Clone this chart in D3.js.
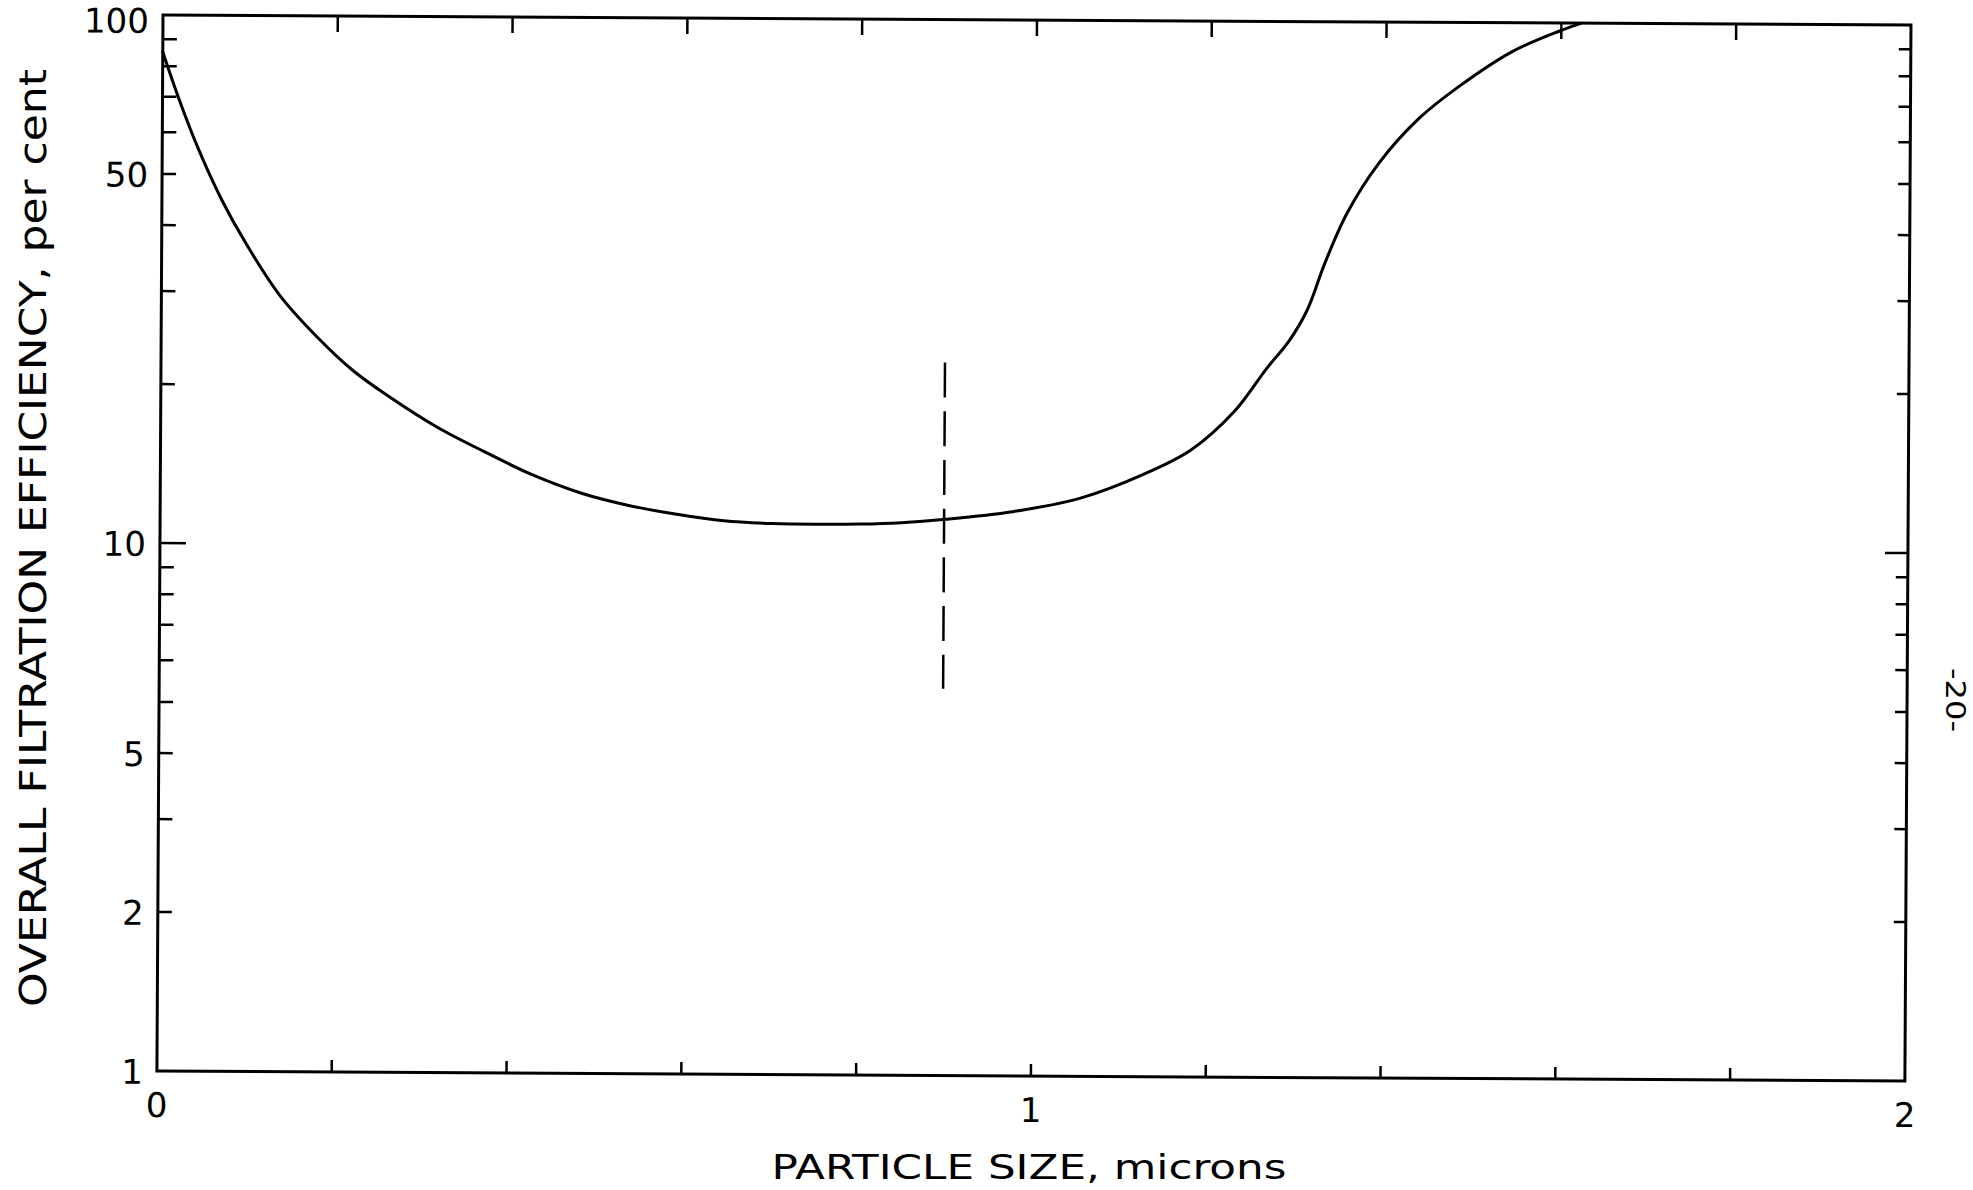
<!DOCTYPE html>
<html>
<head>
<meta charset="utf-8">
<script src="https://cdn.jsdelivr.net/npm/d3@7"></script>
<style>
  html, body { margin: 0; padding: 0; background: #fff; }
  svg { display: block; }
  text { font-family: "DejaVu Sans", "Liberation Sans", sans-serif; fill: #000; }
</style>
</head>
<body>
<svg id="chart" width="1973" height="1190"></svg>
<script>
// ---- data ----
const particleSize = [0, 0.0185, 0.041, 0.0685, 0.096, 0.135, 0.179, 0.220, 0.261, 0.316, 0.371, 0.426, 0.481, 0.536, 0.591, 0.645, 0.700, 0.755, 0.800, 0.848, 0.899, 0.975, 1.052, 1.128, 1.179, 1.228, 1.265, 1.291, 1.311, 1.331, 1.356, 1.392, 1.438, 1.483, 1.544, 1.599, 1.623];
const efficiency   = [85.1, 69.6, 56.0, 44.7, 37.1, 29.6, 24.6, 21.3, 19.05, 16.7, 15.0, 13.58, 12.57, 11.92, 11.48, 11.17, 11.05, 11.03, 11.05, 11.13, 11.31, 11.71, 12.43, 13.9, 15.39, 18.2, 22.0, 24.9, 28.4, 34.9, 43.4, 54.0, 65.8, 75.6, 88.2, 96.7, 100];

const dashedX = 0.897;
const dashedRange = [5.4, 22.4];

const xDomain = [0, 2];
const yDomain = [1, 100];
const xTickValues = [0.2, 0.4, 0.6, 0.8, 1.0, 1.2, 1.4, 1.6, 1.8];
const xLabelValues = [0, 1, 2];
const xLabelTexts = ["0", "1", "2"];
const yMinorTicks = [2, 3, 4, 5, 6, 7, 8, 9, 20, 30, 40, 50, 60, 70, 80, 90];
const yMajorTicks = [10];
const yLabelValues = [1, 2, 4, 10, 50, 100];
const yLabelTexts = ["1", "2", "5", "10", "50", "100"];

const xTitle = "PARTICLE SIZE, microns";
const yTitle = "OVERALL FILTRATION EFFICIENCY, per cent";
const pageNumber = "-20-";

// ---- layout ----
const W = 1748, H = 1056;
const svg = d3.select("#chart");
const g = svg.append("g").attr("transform", "translate(163,15) rotate(0.33)");

const x = d3.scaleLinear().domain(xDomain).range([0, W]);
const y = d3.scaleLog().domain(yDomain).range([H, 0]);

const ink = "#000";

// frame
g.append("rect").attr("x", 0).attr("y", 0).attr("width", W).attr("height", H)
  .attr("fill", "none").attr("stroke", ink).attr("stroke-width", 3);

// bottom ticks (inward)
g.selectAll(".bt").data(xTickValues).enter().append("line")
  .attr("x1", d => x(d)).attr("x2", d => x(d))
  .attr("y1", H).attr("y2", H - 12)
  .attr("stroke", ink).attr("stroke-width", 2.5);
// top ticks (inward)
g.selectAll(".tt").data(xTickValues).enter().append("line")
  .attr("x1", d => x(d)).attr("x2", d => x(d))
  .attr("y1", 0).attr("y2", 16)
  .attr("stroke", ink).attr("stroke-width", 2.5);

// left ticks
g.selectAll(".lm").data(yMinorTicks).enter().append("line")
  .attr("x1", 0).attr("x2", 14).attr("y1", d => y(d)).attr("y2", d => y(d))
  .attr("stroke", ink).attr("stroke-width", 2.5);
g.selectAll(".lM").data(yMajorTicks).enter().append("line")
  .attr("x1", 0).attr("x2", 26).attr("y1", d => y(d)).attr("y2", d => y(d))
  .attr("stroke", ink).attr("stroke-width", 2.5);
// right ticks
g.selectAll(".rm").data(yMinorTicks).enter().append("line")
  .attr("x1", W).attr("x2", W - 12).attr("y1", d => y(d)).attr("y2", d => y(d))
  .attr("stroke", ink).attr("stroke-width", 2.5);
g.selectAll(".rM").data(yMajorTicks).enter().append("line")
  .attr("x1", W).attr("x2", W - 23).attr("y1", d => y(d)).attr("y2", d => y(d))
  .attr("stroke", ink).attr("stroke-width", 2.5);

// y tick labels
g.selectAll(".yl").data(yLabelValues).enter().append("text")
  .attr("x", -14).attr("y", d => Math.max(y(d) + 13, 18))
  .attr("text-anchor", "end").attr("font-size", 34)
  .text((d, i) => yLabelTexts[i]);

// x tick labels
g.selectAll(".xl").data(xLabelValues).enter().append("text")
  .attr("x", d => x(d)).attr("y", H + 46)
  .attr("text-anchor", "middle").attr("font-size", 34)
  .text((d, i) => xLabelTexts[i]);

// curve
const pts = particleSize.map((d, i) => [d, efficiency[i]]);
const line = d3.line().x(d => x(d[0])).y(d => y(d[1])).curve(d3.curveCatmullRom.alpha(0.5));
g.append("path").datum(pts).attr("d", line)
  .attr("fill", "none").attr("stroke", ink).attr("stroke-width", 3)
  .attr("stroke-linejoin", "round").attr("stroke-linecap", "round");

// dashed vertical marker
g.append("line")
  .attr("x1", x(dashedX)).attr("x2", x(dashedX))
  .attr("y1", y(dashedRange[1])).attr("y2", y(dashedRange[0]))
  .attr("stroke", ink).attr("stroke-width", 2.5)
  .attr("stroke-dasharray", "35,13.7");

// axis titles (absolute)
svg.append("text")
  .attr("x", 1029).attr("y", 1179)
  .attr("text-anchor", "middle").attr("font-size", 33)
  .attr("textLength", 515).attr("lengthAdjust", "spacingAndGlyphs")
  .text(xTitle);

svg.append("text")
  .attr("transform", "translate(46,538) rotate(-90)")
  .attr("text-anchor", "middle").attr("font-size", 38)
  .attr("textLength", 938).attr("lengthAdjust", "spacingAndGlyphs")
  .text(yTitle);

svg.append("text")
  .attr("transform", "translate(1946,700) rotate(90)")
  .attr("text-anchor", "middle").attr("font-size", 26)
  .attr("textLength", 64).attr("lengthAdjust", "spacingAndGlyphs")
  .text(pageNumber);
</script>
</body>
</html>
